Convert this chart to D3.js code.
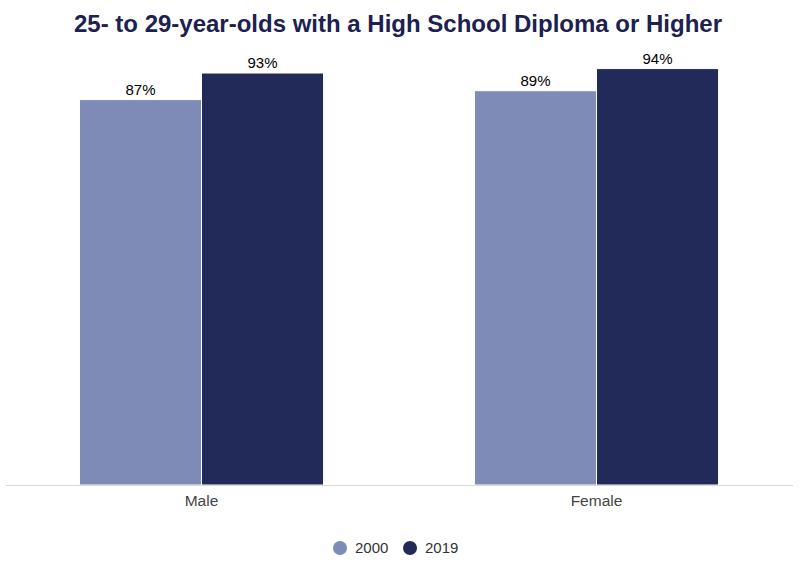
<!DOCTYPE html>
<html><head><meta charset="utf-8">
<script src="https://cdn.jsdelivr.net/npm/d3@7"></script>
<style>body{margin:0;background:#fff}</style>
</head><body><svg id="c" width="800" height="565"></svg>
<script>
const categories = ["Male", "Female"];
const seriesNames = ["2000", "2019"];
const values2000 = [87, 89];
const values2019 = [93, 94];
const colors = ["#7f8bb7", "#222a5a"];

const svg = d3.select("#c");
const font = "'Liberation Sans', Arial, sans-serif";
const plot = {left: 4, right: 794, top: 42, bottom: 485};

const x0 = d3.scaleBand().domain(categories).range([plot.left, plot.right]).paddingInner(0.382).paddingOuter(0.191);
const x1 = d3.scaleBand().domain(seriesNames).range([0, x0.bandwidth()]);
const y = d3.scaleLinear().domain([0, 100]).range([plot.bottom, plot.top]);

svg.append("text").attr("x", 398).attr("y", 32).attr("text-anchor", "middle")
  .attr("font-family", font).attr("font-weight", "bold").attr("font-size", 24)
  .attr("fill", "#1c2150").text("25- to 29-year-olds with a High School Diploma or Higher");

const data = categories.map((c, i) => ({cat: c, vals: [values2000[i], values2019[i]]}));
const g = svg.append("g");
data.forEach(d => {
  d.vals.forEach((v, j) => {
    const xs = x0(d.cat) + x1(seriesNames[j]);
    g.append("rect").attr("x", xs).attr("y", y(v)).attr("width", x1.bandwidth()).attr("height", y(0) - y(v))
      .attr("fill", colors[j]).attr("stroke", "#fff").attr("stroke-width", 1);
    g.append("text").attr("x", xs + x1.bandwidth() / 2).attr("y", y(v) - 5).attr("text-anchor", "middle")
      .attr("font-family", font).attr("font-size", 15).attr("fill", "#000").text(v + "%");
  });
});

const axis = svg.append("g").attr("transform", `translate(0,${plot.bottom})`)
  .call(d3.axisBottom(x0).tickSize(0).tickPadding(10));
axis.select(".domain").attr("stroke", "#d8d8d8").attr("d", `M6,0.5H793`);
axis.selectAll("text").attr("font-family", font).attr("font-size", 15.5).attr("fill", "#444");

const leg = svg.append("g");
const legX = [340, 410];
seriesNames.forEach((s, j) => {
  leg.append("circle").attr("cx", legX[j]).attr("cy", 548).attr("r", 7).attr("fill", colors[j]);
  leg.append("text").attr("x", legX[j] + 15).attr("y", 553).attr("font-family", font)
    .attr("font-size", 15).attr("fill", "#333").text(s);
});
</script></body></html>
